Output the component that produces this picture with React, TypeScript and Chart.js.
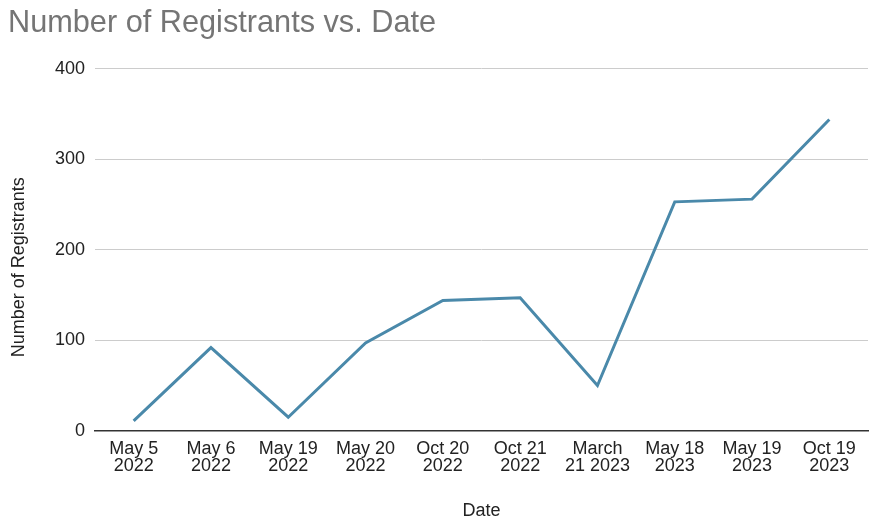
import React, { useEffect, useRef } from "react";
import { Chart, registerables } from "chart.js";

Chart.register(...registerables);

const categories: string[][] = [
  ["May 5", "2022"],
  ["May 6", "2022"],
  ["May 19", "2022"],
  ["May 20", "2022"],
  ["Oct 20", "2022"],
  ["Oct 21", "2022"],
  ["March", "21 2023"],
  ["May 18", "2023"],
  ["May 19", "2023"],
  ["Oct 19", "2023"],
];
const registrants: number[] = [11, 92, 15, 97, 144, 147, 50, 253, 256, 344];
const yTicks: number[] = [0, 100, 200, 300, 400];

const FONT = "'Liberation Sans', Arial, sans-serif";
const PAD = "\u00a0".repeat(7);

export default function App() {
  const ref = useRef<HTMLCanvasElement | null>(null);
  useEffect(() => {
    document.body.style.margin = "0";
    if (!ref.current) return;
    const chart = new Chart(ref.current, {
      type: "line",
      data: {
        labels: categories,
        datasets: [
          {
            label: "Number of Registrants",
            data: registrants,
            borderColor: "#4a89aa",
            backgroundColor: "#4a89aa",
            borderWidth: 3,
            pointRadius: 0,
            tension: 0,
          },
        ],
      },
      options: {
        animation: false,
        responsive: false,
        layout: { padding: { left: 8, right: 1, top: 0, bottom: 0 } },
        plugins: {
          legend: { display: false },
          tooltip: { enabled: false },
          title: {
            display: true,
            text: "Number of Registrants vs. Date",
            align: "start",
            color: "#757575",
            font: { family: FONT, size: 30.7, weight: "normal", lineHeight: 1.2 },
            padding: { top: 5, bottom: 27 },
          },
        },
        scales: {
          x: {
            offset: true,
            grid: { display: false, drawTicks: false },
            border: { display: true, color: "#333", width: 1.5 },
            ticks: {
              color: "#222",
              font: { family: FONT, size: 18, lineHeight: 0.95 },
              padding: 10,
              maxRotation: 0,
              autoSkip: false,
            },
            title: {
              display: true,
              text: "Date",
              color: "#222",
              font: { family: FONT, size: 18, lineHeight: 1.0 },
              padding: { top: 17, bottom: 0 },
            },
          },
          y: {
            min: 0,
            max: 400,
            afterBuildTicks: (scale: any) => {
              scale.ticks = yTicks.map((v) => ({ value: v }));
            },
            afterFit: (scale: any) => {
              scale.width = 87;
            },
            grid: {
              drawTicks: false,
              color: (ctx: any) => (ctx.tick && ctx.tick.value === 0 ? "#333" : "#cccccc"),
              lineWidth: 1,
            },
            border: { display: false },
            ticks: {
              color: "#222",
              font: { family: FONT, size: 18 },
              padding: 10,
            },
            title: {
              display: true,
              text: "Number of Registrants" + PAD,
              color: "#222",
              font: { family: FONT, size: 18 },
              padding: { top: 0, bottom: 0 },
            },
          },
        },
      },
    });
    return () => chart.destroy();
  }, []);
  return (
    <div style={{ width: 869, height: 520 }}>
      <canvas ref={ref} width={869} height={520} />
    </div>
  );
}
